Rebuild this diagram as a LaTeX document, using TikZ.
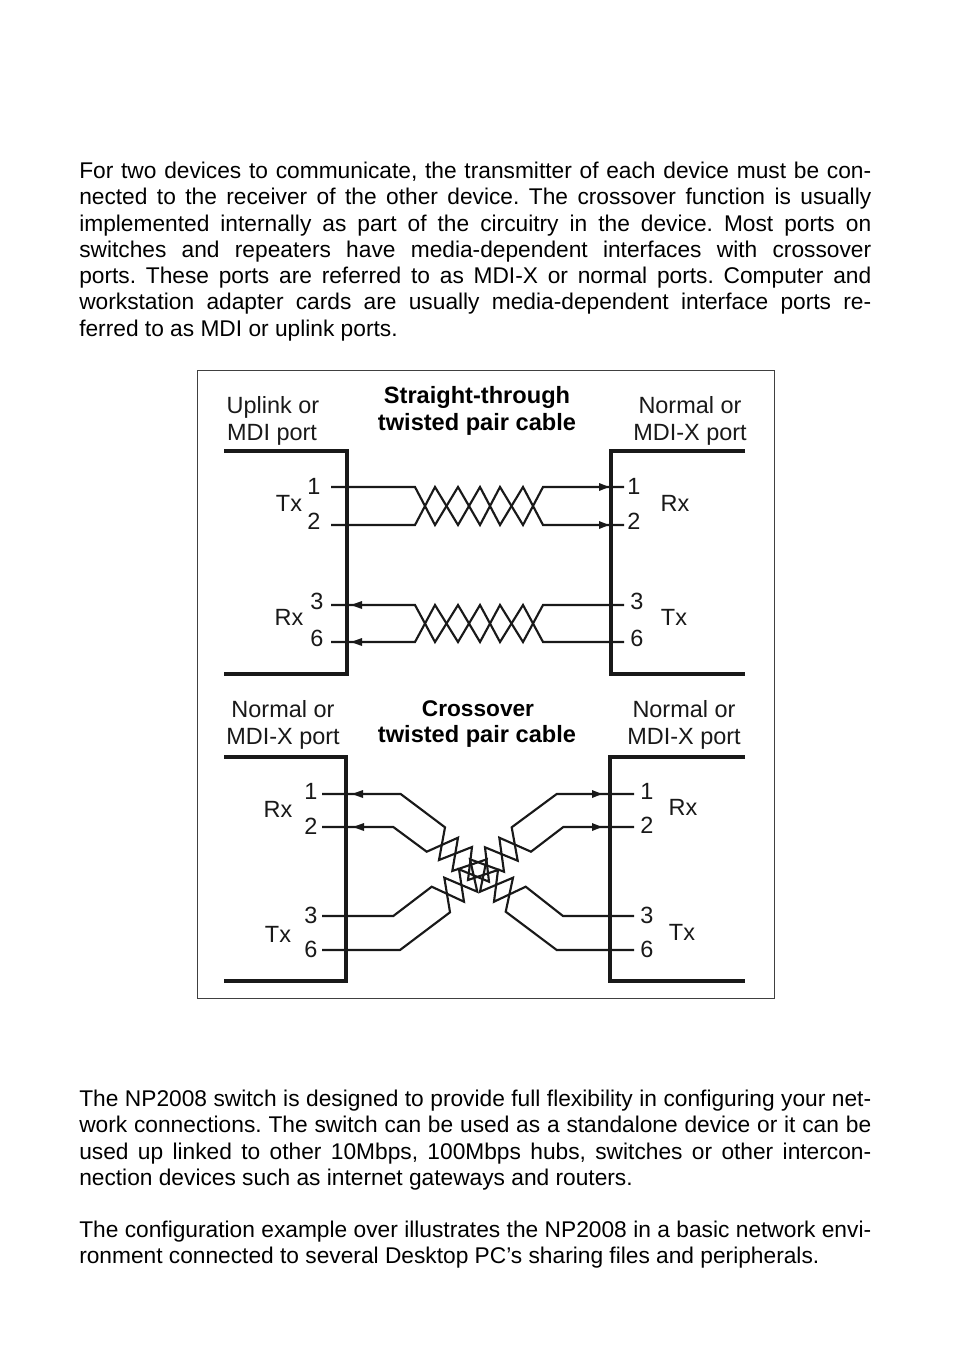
\documentclass[tikz,border=0pt]{standalone}
\usepackage{fontspec}
\setmainfont{Liberation Sans}
\begin{document}
\frenchspacing
\begin{tikzpicture}[x=0.75pt,y=-0.75pt,
  para/.style={anchor=north west,inner sep=0pt,text width=594pt,align=justify,font=\fontsize{17.05pt}{19.67pt}\selectfont},
  lab/.style={anchor=base,inner sep=0pt,font=\fontsize{17.6pt}{20pt}\selectfont,text=black!90},
  head/.style={anchor=base,inner sep=0pt,font=\bfseries\fontsize{17.7pt}{20pt}\selectfont},
  bracket/.style={line width=2.3pt,line cap=butt,line join=miter,black!90},
  wire/.style={line width=1.6pt,line join=miter,black!90},
  tip/.style={fill=black!90,draw=none},
  frame/.style={line width=0.7pt,draw=black!75}]
\useasboundingbox (0,0) rectangle (954,1355);
\fill[white] (0,0) rectangle (954,1355);

\node[para] (p1) at (79,162) {For two devices to communicate, the transmitter of each device must be con-\linebreak
nected to the receiver of the other device. The crossover function is usually\linebreak
implemented internally as part of the circuitry in the device. Most ports on\linebreak
switches and repeaters have media-dependent interfaces with crossover\linebreak
ports. These ports are referred to as MDI-X or normal ports. Computer and\linebreak
workstation adapter cards are usually media-dependent interface ports re-\linebreak
ferred to as MDI or uplink ports.};
\node[para] (p2) at (79,1090) {The NP2008 switch is designed to provide full flexibility in configuring your net-\linebreak
work connections. The switch can be used as a standalone device or it can be\linebreak
used up linked to other 10Mbps, 100Mbps hubs, switches or other intercon-\linebreak
nection devices such as internet gateways and routers.};
\node[para] (p3) at (79,1221) {The configuration example over illustrates the NP2008 in a basic network envi-\linebreak
ronment connected to several Desktop PC’s sharing files and peripherals.};

\draw[frame] (197,370) rectangle (774.5,998);

% brackets
\draw[bracket] (224,451) -- (347,451) -- (347,674) -- (224,674);
\draw[bracket] (745,451) -- (611,451) -- (611,674) -- (745,674);
\draw[bracket] (224,757) -- (346,757) -- (346,981) -- (224,981);
\draw[bracket] (745,757) -- (610,757) -- (610,981) -- (745,981);

% wire ends
\foreach \n/\y in {a/487,b/525,c/605,d/642}{
  \coordinate (tl\n) at (331,\y);
  \coordinate (tr\n) at (624,\y);
}
\foreach \n/\y in {a/794,b/827,c/916,d/950}{
  \coordinate (bl\n) at (322,\y);
  \coordinate (br\n) at (634,\y);
}

% straight-through twists
\draw[wire] (tla) -- (415,487) -- (435,525) -- (458,487) -- (480,525) -- (500,487) -- (523,525) -- (543,487) -- (tra);
\draw[wire] (tlb) -- (415,525) -- (435,487) -- (458,525) -- (480,487) -- (500,525) -- (523,487) -- (543,525) -- (trb);
\draw[wire] (tlc) -- (415,605) -- (435,642) -- (458,605) -- (480,642) -- (500,605) -- (523,642) -- (543,605) -- (trc);
\draw[wire] (tld) -- (415,642) -- (435,605) -- (458,642) -- (480,605) -- (500,642) -- (523,605) -- (543,642) -- (trd);

% crossover twists
\draw[wire] (bla) -- (400.7,794) -- (445,827.3) -- (439,860) -- (472,847) -- (468,880) -- (498,870) -- (494,901.7) -- (525.7,886.7) -- (563,916) -- (brc);
\draw[wire] (blb) -- (393.3,827) -- (426.7,851.7) -- (458,837.7) -- (452.3,871) -- (486.7,859.3) -- (480,891.7) -- (513,877.7) -- (505.7,911.7) -- (556.7,950) -- (brd);
\draw[wire] (bra) -- (556.7,794) -- (511.7,827.3) -- (517.7,860.7) -- (485,847.3) -- (489,881.7) -- (459,869.3) -- (464,901.7) -- (431.7,886.7) -- (393.3,916) -- (blc);
\draw[wire] (brb) -- (563.3,827) -- (531,851.7) -- (499.3,837.7) -- (504,871.7) -- (470,859.3) -- (477.3,891.7) -- (444.3,877.7) -- (450,912.3) -- (400,950) -- (bld);

% arrowheads
\foreach \x/\y in {609/487,609/525,602/794,602/827}
  \fill[tip] (\x,\y) -- (\x-10,\y-4) -- (\x-10,\y+4) -- cycle;
\foreach \x/\y in {351/605,351/642,352/794,353/827}
  \fill[tip] (\x,\y) -- (\x+11,\y-4) -- (\x+11,\y+4) -- cycle;

% straight-through labels
\node[lab] (t1) at (273,413) {Uplink or};
\node[lab] (t2) at (272,440) {MDI port};
\node[head] (t3) at (477,403) {Straight-through};
\node[head] (t4) at (477,430) {twisted pair cable};
\node[lab] (t5) at (690,413) {Normal or};
\node[lab] (t6) at (690,440) {MDI-X port};
\node[lab] (n1) at (314,494) {1};
\node[lab] (n2) at (314,529) {2};
\node[lab] (n3) at (289,511) {Tx};
\node[lab] (n4) at (317,609) {3};
\node[lab] (n5) at (317,646) {6};
\node[lab] (n6) at (289,625) {Rx};
\node[lab] (n7) at (634,494) {1};
\node[lab] (n8) at (634,529) {2};
\node[lab] (n9) at (675,511) {Rx};
\node[lab] (n10) at (637,609) {3};
\node[lab] (n11) at (637,646) {6};
\node[lab] (n12) at (674,625) {Tx};

% crossover labels
\node[lab] (u1) at (283,717) {Normal or};
\node[lab] (u2) at (283,744) {MDI-X port};
\node[head,font=\bfseries\fontsize{17pt}{20pt}\selectfont] (u3) at (478,716) {Crossover};
\node[head] (u4) at (477,742) {twisted pair cable};
\node[lab] (u5) at (684,717) {Normal or};
\node[lab] (u6) at (684,744) {MDI-X port};
\node[lab] (m1) at (311,799) {1};
\node[lab] (m2) at (311,834) {2};
\node[lab] (m3) at (278,817) {Rx};
\node[lab] (m4) at (311,923) {3};
\node[lab] (m5) at (311,957) {6};
\node[lab] (m6) at (278,942) {Tx};
\node[lab] (m7) at (647,799) {1};
\node[lab] (m8) at (647,833) {2};
\node[lab] (m9) at (683,815) {Rx};
\node[lab] (m10) at (647,923) {3};
\node[lab] (m11) at (647,957) {6};
\node[lab] (m12) at (682,940) {Tx};
\end{tikzpicture}
\end{document}
